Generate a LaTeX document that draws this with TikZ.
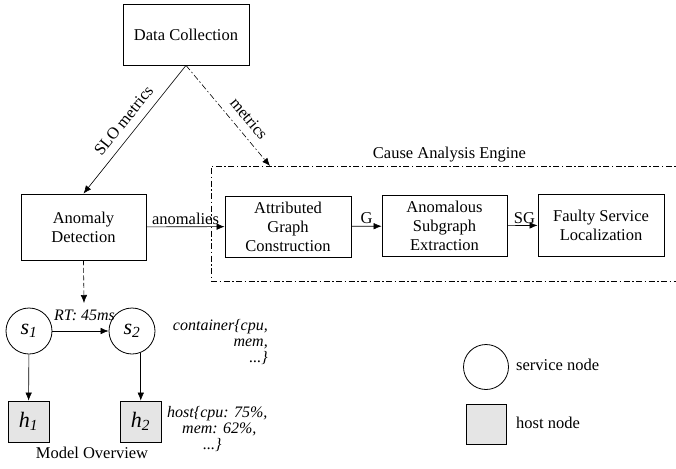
\documentclass[tikz,border=0pt]{standalone}
\usepackage{fontspec}
\setmainfont{Liberation Serif}
\usetikzlibrary{arrows.meta}
\begin{document}
\begin{tikzpicture}[x=1pt, y=-1pt, font=\fontsize{16.5}{19}\selectfont]
	\tikzstyle{block}=[rectangle, draw=black, line width=0.8pt, minimum width=126pt, minimum height=61pt, align=center, inner sep=2pt]
	\tikzstyle{service}=[circle, draw=black, line width=0.8pt, minimum size=46pt, inner sep=0pt, font=\fontsize{22}{22}\selectfont\itshape]
	\tikzstyle{host}=[rectangle, draw=black, line width=0.8pt, fill=black!10, minimum size=41pt, inner sep=0pt, font=\fontsize{22}{22}\selectfont\itshape]
	\tikzstyle{arr}=[-{Latex[length=8pt, width=6.5pt]}, line width=0.6pt]
	\tikzstyle{dashdot}=[dash pattern=on 6pt off 2.5pt on 1.5pt off 2.5pt]
	\tikzstyle{attr}=[inner sep=0pt, font=\fontsize{16}{16}\selectfont\itshape]
	\useasboundingbox (0,0) rectangle (676,468);
	% Pipeline
	\node at (186, 34.5) [block] (dc) {Data Collection};
	\node at (83.5, 227) [block, minimum width=125pt, minimum height=66pt] (ad) {Anomaly\\Detection};
	\node at (288, 226.5) [block] (agc) {Attributed\\Graph\\Construction};
	\node at (444.5, 226) [block, minimum width=125pt] (ase) {Anomalous\\Subgraph\\Extraction};
	\node at (601, 225) [block, minimum height=62pt] (fsl) {Faulty Service\\Localization};
	% Cause analysis engine
	\node at (450.5, 223.5) [rectangle, draw=black, line width=0.8pt, dashdot, minimum width=479pt, minimum height=115pt] (cae) {};
	\node at (449.5, 155) (cae_label) {Cause Analysis Engine};
	\coordinate (m_tip) at (270, 166);
	\coordinate (mo_tip) at (84, 303);
	%---------------------%
	\draw[arr] (dc.south) -- (ad.north) node[midway, above=5pt, sloped] {SLO metrics};
	\draw[arr, dashdot] (dc.south) -- (m_tip) node[pos=0.62, above=5pt, sloped] {metrics};
	\draw[arr] (ad) -- (agc) node[midway, above, inner sep=2pt] {anomalies};
	\draw[arr] (agc) -- (ase) node[midway, above, inner sep=2pt] {G};
	\draw[arr] (ase) -- (fsl) node[midway, above, inner sep=2pt, xshift=2pt] {SG};
	\draw[arr, dash pattern=on 5pt off 2.5pt] (ad.south) -- (mo_tip);
	%---------------------%
	% Model overview
	\foreach \x/\px in {1/29, 2/132}
		\node at (\px, 331) [service] (s_\x) {s\textsubscript{\x}};
	\foreach \x/\px in {1/28.5, 2/140.5}
		\node at (\px, 421.5) [host] (h_\x) {h\textsubscript{\x}};
	\draw[arr] (s_1) -- (s_2) node[midway, above=10pt, xshift=4pt, attr] {RT: 45ms};
	\draw[arr] (s_1) -- (h_1);
	\draw[arr] (s_2.-68) -- (s_2.-68 |- h_1.north);
	\node at (268, 319) [attr, anchor=north east, align=right] (cont) {container\{cpu,\\mem,\\...\}};
	\node at (167, 406) [attr, anchor=north west, align=left] (hst) {host\{cpu: 75\%,\\\hspace{15pt}mem: 62\%,\\\hspace{36pt}...\}};
	\node at (92, 453) (mo_label) {Model Overview};
	% Legend
	\node at (486, 367) [service, minimum size=45pt] (leg_s) {};
	\node at (486, 424) [host, minimum size=40pt] (leg_h) {};
	\node at (516, 365) [anchor=west, inner sep=0pt] (leg_s_label) {service node};
	\node at (516, 423) [anchor=west, inner sep=0pt] (leg_h_label) {host node};
\end{tikzpicture}
\end{document}
